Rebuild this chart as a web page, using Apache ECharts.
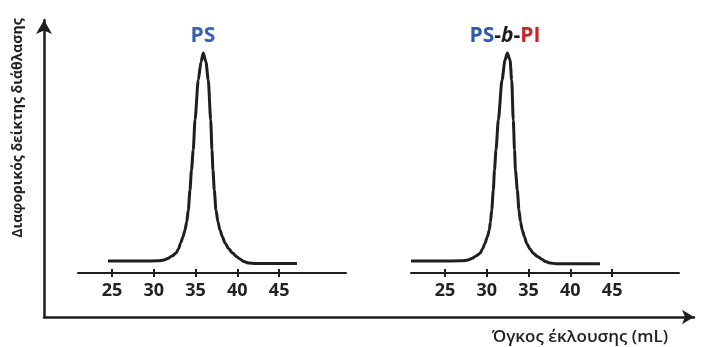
<!DOCTYPE html>
<html>
<head>
<meta charset="utf-8">
<script src="https://cdn.jsdelivr.net/npm/echarts@6/dist/echarts.min.js"></script>
<style>html,body{margin:0;padding:0;background:#fff;}#c{width:701px;height:347px;}</style>
</head>
<body>
<div id="c"></div>
<script>
// Elution volume (mL) and normalised RI signal
const psVolume = [24.52, 28.35, 30.50, 31.22, 31.70, 32.18, 32.66, 32.95, 33.22, 33.49, 33.73, 33.94, 34.13, 34.33, 34.51, 34.72, 34.93, 35.32, 35.65, 35.92, 36.24, 36.52, 36.81, 36.96, 37.08, 37.24, 37.44, 37.68, 37.92, 38.22, 38.52, 38.94, 39.44, 39.89, 40.31, 40.79, 41.39, 42.11, 47.13];
const psSignal = [0.054, 0.054, 0.055, 0.059, 0.066, 0.077, 0.090, 0.109, 0.136, 0.163, 0.195, 0.231, 0.285, 0.376, 0.466, 0.557, 0.692, 0.873, 0.955, 0.995, 0.955, 0.873, 0.692, 0.557, 0.466, 0.376, 0.285, 0.231, 0.195, 0.163, 0.136, 0.111, 0.090, 0.075, 0.063, 0.052, 0.045, 0.043, 0.043];
const blockVolume = [20.93, 24.40, 27.03, 27.75, 28.23, 28.71, 29.19, 29.49, 29.78, 30.06, 30.30, 30.44, 30.59, 30.78, 30.92, 31.10, 31.38, 31.82, 32.18, 32.45, 32.78, 32.98, 33.17, 33.32, 33.43, 33.65, 33.85, 34.03, 34.25, 34.51, 34.77, 35.17, 35.56, 36.06, 36.57, 37.02, 37.62, 38.28, 43.54];
const blockSignal = [0.054, 0.054, 0.055, 0.059, 0.066, 0.077, 0.089, 0.109, 0.134, 0.163, 0.195, 0.231, 0.285, 0.376, 0.466, 0.557, 0.692, 0.873, 0.964, 0.995, 0.964, 0.873, 0.692, 0.557, 0.466, 0.376, 0.285, 0.231, 0.195, 0.163, 0.134, 0.109, 0.089, 0.075, 0.063, 0.052, 0.045, 0.042, 0.042];
const tickValues = [25, 30, 35, 40, 45];
const yAxisTitle = 'Διαφορικός δείκτης διάθλασης';
const xAxisTitle = 'Όγκος έκλουσης (mL)';

const pair = (xs, ys) => xs.map((x, i) => [x, ys[i]]);
const ink = '#1e1e1e';
const font = '"Open Sans", "Noto Sans", sans-serif';

function panelAxes(gridIndex) {
  return [
    {
      type: 'value', gridIndex, min: 20.93, max: 53, position: 'bottom',
      axisLine: { show: true, lineStyle: { color: ink, width: 2 } },
      axisTick: { show: true, customValues: tickValues, length: 4, lineStyle: { color: ink, width: 2 } },
      axisLabel: { show: true, customValues: tickValues, margin: 9, color: '#222', fontSize: 18, fontWeight: 'bold', fontFamily: font },
      splitLine: { show: false }
    },
    {
      type: 'value', gridIndex, min: 20.93, max: 53, position: 'bottom',
      axisLine: { show: false },
      axisTick: { show: true, inside: true, customValues: tickValues, length: 4, lineStyle: { color: ink, width: 2 } },
      axisLabel: { show: false },
      splitLine: { show: false }
    }
  ];
}

const chart = echarts.init(document.getElementById('c'), null, { renderer: 'canvas' });
chart.setOption({
  animation: false,
  backgroundColor: '#fff',
  grid: [
    { left: 44, top: 20, right: 7, bottom: 30 },
    { left: 78, top: 52, width: 268, height: 221 },
    { left: 411, top: 52, width: 268, height: 221 }
  ],
  xAxis: [
    {
      type: 'value', gridIndex: 0, min: 0, max: 1,
      axisLine: { show: true, symbol: ['none', 'arrow'], symbolSize: [11, 12], lineStyle: { color: ink, width: 2.5 } },
      axisTick: { show: false }, axisLabel: { show: false }, splitLine: { show: false }
    },
    ...panelAxes(1),
    ...panelAxes(2)
  ],
  yAxis: [
    {
      type: 'value', gridIndex: 0, min: 0, max: 1,
      axisLine: { show: true, symbol: ['none', 'arrow'], symbolSize: [12, 14], lineStyle: { color: ink, width: 2.5 } },
      axisTick: { show: false }, axisLabel: { show: false }, splitLine: { show: false }
    },
    { type: 'value', gridIndex: 1, min: 0, max: 1, show: false },
    { type: 'value', gridIndex: 2, min: 0, max: 1, show: false }
  ],
  graphic: [
    {
      type: 'text', x: 18, y: 128, rotation: Math.PI / 2,
      style: { text: yAxisTitle, fill: '#222', font: 'bold 14px ' + font, align: 'center', verticalAlign: 'middle' }
    },
    {
      type: 'text', x: 580, y: 337,
      style: { text: xAxisTitle, fill: '#222', font: '600 17px ' + font, align: 'center', verticalAlign: 'middle' }
    },
    {
      type: 'text', x: 203, y: 36,
      style: { text: 'PS', fill: '#3a62b2', font: 'bold 21px ' + font, align: 'center', verticalAlign: 'middle' }
    },
    {
      type: 'text', x: 505, y: 36,
      style: {
        text: '{a|PS}{b|-}{c|b}{b|-}{d|PI}', align: 'center', verticalAlign: 'middle',
        font: 'bold 21px ' + font,
        rich: {
          a: { fill: '#2f5aa8', font: 'bold 21px ' + font },
          b: { fill: '#1e1e1e', font: 'bold 21px ' + font },
          c: { fill: '#1e1e1e', font: 'italic bold 21px ' + font },
          d: { fill: '#cc2229', font: 'bold 21px ' + font }
        }
      }
    }
  ],
  series: [
    {
      type: 'line', xAxisIndex: 1, yAxisIndex: 1, data: pair(psVolume, psSignal),
      showSymbol: false, smooth: 0.25, smoothMonotone: 'x', lineStyle: { color: ink, width: 3 }
    },
    {
      type: 'line', xAxisIndex: 3, yAxisIndex: 2, data: pair(blockVolume, blockSignal),
      showSymbol: false, smooth: 0.25, smoothMonotone: 'x', lineStyle: { color: ink, width: 3 }
    }
  ]
});
</script>
</body>
</html>
